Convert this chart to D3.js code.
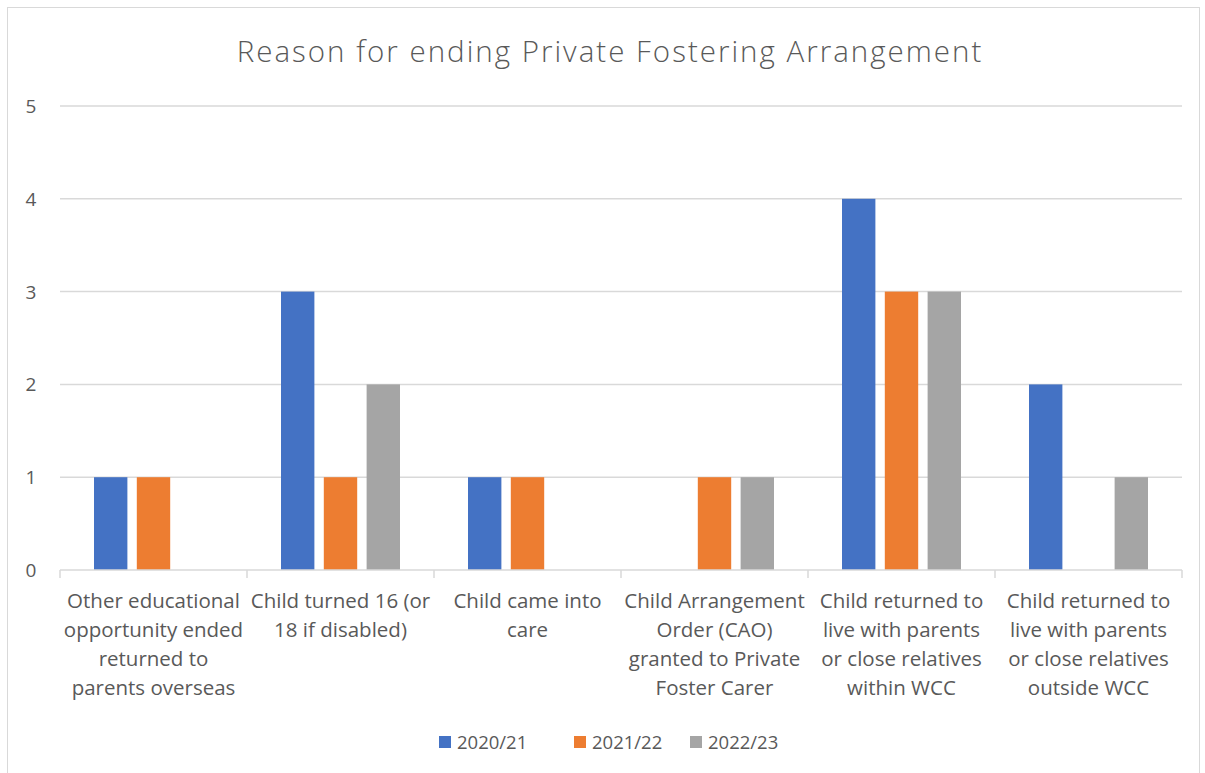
<!DOCTYPE html>
<html lang="en">
<head>
  <meta charset="UTF-8">
  <title>Reason for ending Private Fostering Arrangement</title>
  <script src="https://d3js.org/d3.v7.min.js"></script>
  <style>
    body { margin: 0; background: #fff; }
    svg { display: block; font-family: "Open Sans", Lato, sans-serif; }
  </style>
</head>
<body>
  <svg width="1205" height="773"></svg>
  <script>
  // chart values
  const categories = [
    ["Other educational", "opportunity ended", "returned to", "parents overseas"],
    ["Child turned 16 (or", "18 if disabled)"],
    ["Child came into", "care"],
    ["Child Arrangement", "Order (CAO)", "granted to Private", "Foster Carer"],
    ["Child returned to", "live with parents", "or close relatives", "within WCC"],
    ["Child returned to", "live with parents", "or close relatives", "outside WCC"]
  ];
  const seriesNames = ["2020/21", "2021/22", "2022/23"];
  const v2020 = [1, 3, 1, 0, 4, 2];
  const v2021 = [1, 1, 1, 1, 3, 0];
  const v2022 = [0, 2, 0, 1, 3, 1];
  const yTicks = [0, 1, 2, 3, 4, 5];
  const colors = ["#4472c4", "#ed7d31", "#a5a5a5"];

  const values = [v2020, v2021, v2022];
  const svg = d3.select("svg");
  const textColor = "#595959";
  const gridColor = "#d9d9d9";

  // outer chart border
  svg.append("rect")
    .attr("x", 7.5).attr("y", 7.5)
    .attr("width", 1192).attr("height", 770)
    .attr("fill", "none")
    .attr("stroke", gridColor)
    .attr("stroke-width", 1);

  svg.append("text")
    .attr("x", 610)
    .attr("y", 62)
    .attr("text-anchor", "middle")
    .attr("font-size", "29.5px")
    .attr("font-weight", 300)
    .attr("letter-spacing", "2px")
    .attr("fill", textColor)
    .text("Reason for ending Private Fostering Arrangement");

  const plotLeft = 60, plotRight = 1182, plotTop = 106, plotBottom = 570;

  const x = d3.scaleBand()
    .domain(d3.range(categories.length))
    .range([plotLeft, plotRight])
    .padding(0);

  const inner = d3.scaleBand()
    .domain(d3.range(seriesNames.length))
    .range([34, x.bandwidth() - 34])
    .paddingInner(0.22);

  const y = d3.scaleLinear().domain([0, 5]).range([plotBottom, plotTop]);

  // gridlines
  svg.append("g")
    .selectAll("line")
    .data(yTicks.filter(d => d > 0))
    .join("line")
    .attr("x1", plotLeft).attr("x2", plotRight)
    .attr("y1", d => y(d)).attr("y2", d => y(d))
    .attr("stroke", gridColor)
    .attr("stroke-width", 1.5);

  // y labels
  svg.append("g")
    .selectAll("text")
    .data(yTicks)
    .join("text")
    .attr("x", 31)
    .attr("y", d => y(d) + 7)
    .attr("text-anchor", "middle")
    .attr("font-size", "19px")
    .attr("fill", textColor)
    .text(d => d);

  // bars
  const groups = svg.append("g")
    .selectAll("g")
    .data(categories.map((c, i) => i))
    .join("g")
    .attr("transform", i => `translate(${x(i)},0)`);

  groups.selectAll("rect")
    .data(i => values.map((s, k) => ({ k: k, v: s[i] })).filter(d => d.v > 0))
    .join("rect")
    .attr("x", d => inner(d.k))
    .attr("width", inner.bandwidth())
    .attr("y", d => y(d.v))
    .attr("height", d => y(0) - y(d.v))
    .attr("fill", d => colors[d.k]);

  // x axis line and ticks
  svg.append("line")
    .attr("x1", plotLeft).attr("x2", plotRight)
    .attr("y1", plotBottom).attr("y2", plotBottom)
    .attr("stroke", gridColor)
    .attr("stroke-width", 1.5);

  svg.append("g")
    .selectAll("line")
    .data(d3.range(categories.length + 1))
    .join("line")
    .attr("x1", i => plotLeft + i * x.bandwidth())
    .attr("x2", i => plotLeft + i * x.bandwidth())
    .attr("y1", plotBottom).attr("y2", plotBottom + 8)
    .attr("stroke", gridColor)
    .attr("stroke-width", 1.5);

  // category labels
  const labels = svg.append("g")
    .selectAll("text")
    .data(categories)
    .join("text")
    .attr("text-anchor", "middle")
    .attr("font-size", "20.5px")
    .attr("fill", textColor)
    .attr("transform", (d, i) => `translate(${x(i) + x.bandwidth() / 2},608)`);

  labels.selectAll("tspan")
    .data(d => d)
    .join("tspan")
    .attr("x", 0)
    .attr("y", (d, j) => j * 29)
    .text(d => d);

  // legend
  const legendX = [439, 574, 690];
  const legend = svg.append("g")
    .selectAll("g")
    .data(seriesNames)
    .join("g")
    .attr("transform", (d, i) => `translate(${legendX[i]},736)`);

  legend.append("rect")
    .attr("width", 12).attr("height", 12)
    .attr("fill", (d, i) => colors[i]);

  legend.append("text")
    .attr("x", 18)
    .attr("y", 13)
    .attr("font-size", "18.5px")
    .attr("fill", textColor)
    .text(d => d);
  </script>
</body>
</html>
